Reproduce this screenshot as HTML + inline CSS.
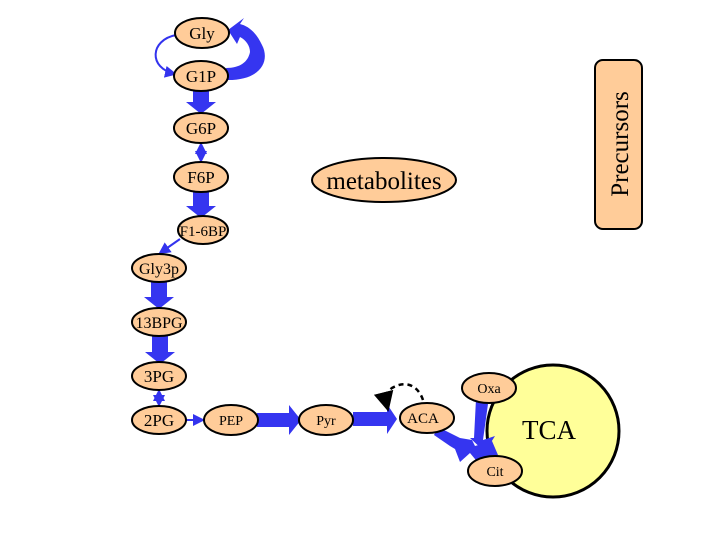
<!DOCTYPE html>
<html><head><style>body{margin:0;background:#fff}svg{display:block}text{font-family:"Liberation Serif",serif;fill:#000}</style></head>
<body>
<svg width="720" height="540" viewBox="0 0 720 540" xmlns="http://www.w3.org/2000/svg">
<defs>
<marker id="sa" markerWidth="6" markerHeight="6" refX="5" refY="3" orient="auto"><path d="M0,0L6,3L0,6z" fill="#3333ee"/></marker>
<marker id="sb" markerWidth="6" markerHeight="6" refX="1" refY="3" orient="auto"><path d="M6,0L0,3L6,6z" fill="#3333ee"/></marker>
<marker id="bk" markerWidth="8" markerHeight="8" refX="4" refY="4" orient="auto"><path d="M0,0L8,4L0,8z" fill="#000"/></marker>
</defs>
<g fill="#3535f0" stroke="none">
<!-- TCA circle -->
<circle cx="553" cy="431" r="66" fill="#ffff99" stroke="#000" stroke-width="3"/>
<!-- G1P->G6P -->
<path d="M193,90h16v12h7l-15,12l-15,-12h7z"/>
<!-- F6P->F1-6BP -->
<path d="M193,192h16v14h7l-15,12l-15,-12h7z"/>
<!-- Gly3p->13BPG -->
<path d="M151,282h16v15h7l-15,12l-15,-12h7z"/>
<!-- 13BPG->3PG -->
<path d="M152,336h16v16h7l-15,12l-15,-12h7z"/>
<!-- PEP->Pyr -->
<path d="M257,413h32v-8l12,15l-12,15v-8h-32z"/>
<!-- Pyr->ACA -->
<path d="M353,412h34v-8l10,15l-10,15v-8h-34z"/>
<!-- G1P->Gly big curve -->
<path d="M228,80C262,80 270,60 262,45C256,32 248,26 240,24L244,18L228,30L237,44L240,37C246,40 250,46 250,52C248,62 240,68 226,68z"/>
<!-- ACA->Cit -->
<path d="M438,427L460,438L472,440L475,446L492,441L498,455L480,465L470,453L460,462L455,449L450,446L434,435z"/>
<!-- Oxa->Cit -->
<path d="M476,399L488,404L483,440L495,436L485,452L470,438L474,438z"/>
</g>
<!-- thin arrows -->
<g stroke="#3333ee" stroke-width="2" fill="none">
<path d="M176,35C150,40 148,68 175,74" marker-end="url(#sa)"/>
<path d="M201,144V161" marker-start="url(#sb)" marker-end="url(#sa)"/>
<path d="M180,239L160,253" marker-end="url(#sa)"/>
<path d="M159,391V405" marker-start="url(#sb)" marker-end="url(#sa)"/>
<path d="M186,420H203" marker-end="url(#sa)"/>
</g>
<path d="M423,400C418,385 405,380 392,388C386,392 385,398 386,402" stroke="#000" stroke-width="2.5" stroke-dasharray="5,4" fill="none" marker-end="url(#bk)"/>
<g fill="#ffcc99" stroke="#000" stroke-width="2">
<ellipse cx="202" cy="33" rx="27" ry="15"/>
<ellipse cx="201" cy="76" rx="27" ry="15"/>
<ellipse cx="201" cy="128" rx="27" ry="15"/>
<ellipse cx="201" cy="177" rx="27" ry="15"/>
<ellipse cx="203" cy="230" rx="25" ry="14"/>
<ellipse cx="159" cy="268" rx="27" ry="14"/>
<ellipse cx="159" cy="322" rx="27" ry="14"/>
<ellipse cx="159" cy="376" rx="27" ry="14"/>
<ellipse cx="159" cy="420" rx="27" ry="14"/>
<ellipse cx="231" cy="420" rx="27" ry="15"/>
<ellipse cx="326" cy="420" rx="27" ry="15"/>
<ellipse cx="427" cy="418" rx="27" ry="15"/>
<ellipse cx="489" cy="388" rx="27" ry="15"/>
<ellipse cx="495" cy="471" rx="27" ry="15"/>
<ellipse cx="384" cy="180" rx="72" ry="22"/>
<rect x="595" y="60" width="47" height="169" rx="8"/>
</g>
<g text-anchor="middle" font-size="17">
<text x="202" y="39">Gly</text>
<text x="201" y="82">G1P</text>
<text x="201" y="134">G6P</text>
<text x="201" y="183">F6P</text>
<text x="203" y="236" font-size="15">F1-6BP</text>
<text x="159" y="274" font-size="16">Gly3p</text>
<text x="159" y="328" font-size="16">13BPG</text>
<text x="159" y="382">3PG</text>
<text x="159" y="426">2PG</text>
<text x="231" y="425" font-size="14">PEP</text>
<text x="326" y="425" font-size="14">Pyr</text>
<text x="423" y="423" font-size="15">ACA</text>
<text x="489" y="393" font-size="14">Oxa</text>
<text x="495" y="476" font-size="14">Cit</text>
<text x="384" y="189" font-size="25">metabolites</text>
<text x="549" y="439" font-size="27">TCA</text>
<text transform="translate(628,144) rotate(-90)" font-size="25">Precursors</text>
</g>
</svg>
</body></html>
